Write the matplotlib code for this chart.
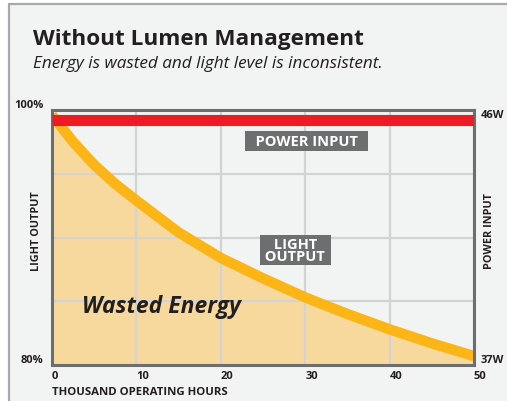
import matplotlib
matplotlib.use("Agg")
import matplotlib.pyplot as plt
from matplotlib.patches import Rectangle

# ── data ──────────────────────────────────────────────────────────────────────
hours = [0, 2.5, 5, 7.5, 10, 15, 20, 25, 30, 35, 40, 45, 50]
light_output = [99.6, 97.5, 95.7, 94.2, 92.9, 90.4, 88.4, 86.8, 85.3, 84.0, 82.8, 81.7, 80.7]
power_hours = [0, 50]
power_input = [46, 46]
x_ticks = [0, 10, 20, 30, 40, 50]
y_ticks = [80, 85, 90, 95, 100]
y_labels = ["80%", "", "", "", "100%"]
p_ticks = [37, 46]
p_labels = ["37W", "46W"]

# ── colours ───────────────────────────────────────────────────────────────────
BG = "#f2f3f3"
DARK = "#231f20"
FRAME = "#6d6e70"
GRID = "#d1d3d4"
RED = "#ed1c24"
GOLD = "#fbb516"
FILL = "#f8d99d"

plt.rcParams["font.family"] = ["Open Sans", "DejaVu Sans"]

fig = plt.figure(figsize=(5.07, 4.02), dpi=100)
fig.patch.set_facecolor("white")
W, H = 507, 402
fig.add_artist(Rectangle((9 / W, -0.1), 1.2, 1.1 - 5 / H,
                         transform=fig.transFigure, facecolor=BG,
                         edgecolor="#a7a9ac", linewidth=1.6, zorder=-10))

fig.text(33 / W, 1 - 39 / H, "Without Lumen Management", fontsize=16.2,
         fontweight="bold", color=DARK, va="center", ha="left")
fig.text(33 / W, 1 - 64 / H, "Energy is wasted and light level is inconsistent.",
         fontsize=12.3, style="italic", color=DARK, va="center", ha="left")

ax = fig.add_axes([52 / W, 1 - 366 / H, 422 / W, 255 / H])
ax.set_facecolor("none")
ax.set_xlim(0, 50)
ax.set_ylim(80, 100)

ax.fill_between(hours, light_output, 80, color=FILL, linewidth=0, zorder=1)
ax.plot(hours, light_output, color=GOLD, linewidth=7.5, solid_capstyle="butt",
        solid_joinstyle="round", zorder=3)

ax.set_axisbelow(False)
ax.grid(True, color=GRID, linewidth=1.6, zorder=2)
for s in ax.spines.values():
    s.set_color(FRAME)
    s.set_linewidth(2.2)
    s.set_zorder(5)

ax.set_xticks(x_ticks)
ax.set_xticklabels([str(t) for t in x_ticks], ha="left", fontweight="bold")
ax.set_yticks(y_ticks)
ax.set_yticklabels(y_labels, va="bottom", fontweight="bold")
ax.tick_params(length=0, labelsize=8, colors=DARK, pad=6)
ax.tick_params(axis="x", pad=3.5)
ax.set_xlabel("THOUSAND OPERATING HOURS", loc="left", fontsize=8.2,
              fontweight="bold", color=DARK, labelpad=4)
ax.set_ylabel("LIGHT OUTPUT", fontsize=7.8, fontweight="bold", color=DARK,
              va="center", ha="center")
ax.yaxis.set_label_coords(-0.036, 0.53)

# ── power input on its own scale ──────────────────────────────────────────────
ax2 = ax.twinx()
ax2.set_ylim(37, 46.35)
ax2.plot(power_hours, power_input, color=RED, linewidth=8,
         solid_capstyle="butt", zorder=4)
for s in ax2.spines.values():
    s.set_visible(False)
ax2.set_yticks(p_ticks)
ax2.set_yticklabels(p_labels, va="bottom", fontweight="bold")
ax2.tick_params(length=0, labelsize=8, colors=DARK, pad=5)
ax2.set_ylabel("POWER INPUT", fontsize=7.8, fontweight="bold", color=DARK,
               va="center", ha="center", rotation=90)
ax2.yaxis.set_label_coords(1.036, 0.53)

# ── in-chart labels ───────────────────────────────────────────────────────────
box = dict(boxstyle="square,pad=0.2", facecolor=FRAME, edgecolor="none")
ax.text(30.15, 97.55, "  POWER INPUT  ", fontsize=10.5, fontweight="bold",
        color="white", ha="center", va="center", bbox=box, zorder=6)
ax.text(28.8, 89.0, " LIGHT \n OUTPUT ", fontsize=10.5, fontweight="bold",
        color="white", ha="center", va="center", linespacing=0.85,
        bbox=dict(boxstyle="square,pad=0.12", facecolor=FRAME, edgecolor="none"),
        zorder=6)
ax.text(3.55, 84.6, "Wasted Energy", fontsize=16.5, fontweight="bold",
        style="italic", color=DARK, ha="left", va="center", zorder=6)

fig.savefig("out.png", dpi=100, facecolor=fig.get_facecolor())
